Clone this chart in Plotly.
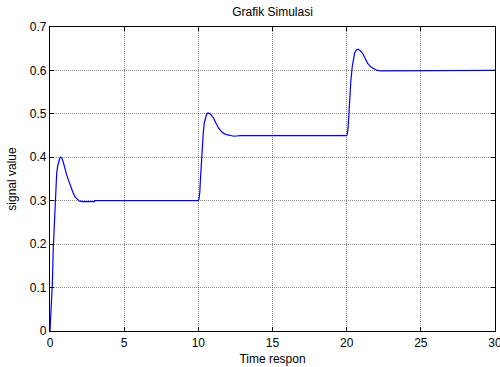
import plotly.graph_objects as go

# Simulation response samples (time, signal value)
time_s = [0, 0.05, 0.1, 0.16, 0.22, 0.28, 0.34, 0.4, 0.45, 0.52, 0.6, 0.67, 0.72, 0.8, 0.9, 1.01, 1.12, 1.24,
          1.35, 1.46, 1.58, 1.69, 1.83, 1.98, 2.2, 2.5, 3.0, 3.02,
          10.0, 10.05, 10.1, 10.14, 10.2, 10.27, 10.33, 10.4, 10.48, 10.56, 10.65, 10.75, 10.85, 10.95, 11.03,
          11.2, 11.37, 11.54, 11.71, 11.9, 12.16, 12.4, 12.6, 12.8,
          20.0, 20.05, 20.1, 20.2, 20.28, 20.38, 20.46, 20.54, 20.65, 20.77, 20.9, 21.06, 21.22, 21.4, 21.6,
          21.85, 22.05, 22.3, 30.0]
signal = [0, 0.03, 0.06, 0.11, 0.19, 0.24, 0.275, 0.33, 0.363, 0.38, 0.394, 0.399, 0.40, 0.398, 0.388, 0.372, 0.36, 0.348,
          0.336, 0.325, 0.316, 0.309, 0.303, 0.299, 0.298, 0.298, 0.298, 0.30,
          0.30, 0.305, 0.32, 0.348, 0.39, 0.425, 0.455, 0.479, 0.492, 0.499, 0.502, 0.501, 0.498, 0.494, 0.49,
          0.478, 0.467, 0.46, 0.455, 0.452, 0.45, 0.4485, 0.449, 0.45,
          0.45, 0.455, 0.47, 0.533, 0.575, 0.61, 0.628, 0.64, 0.647, 0.649, 0.646, 0.64, 0.63, 0.617, 0.609,
          0.603, 0.6, 0.599, 0.60]

x_ticks = [0, 5, 10, 15, 20, 25, 30]
y_ticks = [0, 0.1, 0.2, 0.3, 0.4, 0.5, 0.6, 0.7]
y_tick_text = ["0", "0.1", "0.2", "0.3", "0.4", "0.5", "0.6", "0.7"]

fig = go.Figure()
fig.add_trace(go.Scatter(x=time_s, y=signal, mode="lines",
                         line=dict(color="#0000ff", width=1.2),
                         showlegend=False))

font = dict(family="Liberation Sans, Arial, sans-serif", size=12, color="#000000")
axis_common = dict(showline=True, linecolor="#000000", linewidth=1.3, mirror="ticks",
                   ticks="inside", ticklen=4, tickcolor="#000000",
                   showgrid=True, gridcolor="rgba(0,0,0,0.45)", griddash="1px,1px", gridwidth=1,
                   zeroline=False, tickfont=font, automargin=False, ticklabeloverflow="allow")

fig.update_layout(
    width=500, height=367,
    margin=dict(l=50, r=5, t=27, b=36),
    paper_bgcolor="white", plot_bgcolor="white",
    font=font,
    title=dict(text="Grafik Simulasi", x=0.545, xanchor="center", y=0.978, yanchor="top",
               font=dict(family="Liberation Sans, Arial, sans-serif", size=12, color="#000000")),
    xaxis=dict(range=[0, 30], tickvals=x_ticks, ticktext=[str(v) for v in x_ticks],
               title=dict(text="Time respon", standoff=6, font=font), **axis_common),
    yaxis=dict(range=[0, 0.7], tickvals=y_ticks, ticktext=y_tick_text,
               title=dict(text="signal value", standoff=10, font=font), **axis_common),
)

fig.write_html("out.html", config={"displayModeBar": False},
               post_script="document.body.style.margin='0';document.body.style.overflow='hidden';")
